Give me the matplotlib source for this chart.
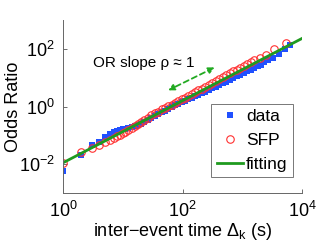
import matplotlib
matplotlib.use("Agg")
import matplotlib.pyplot as plt

plt.rcParams['font.family'] = ['Liberation Sans', 'DejaVu Sans']
plt.rcParams['mathtext.fontset'] = 'custom'
plt.rcParams['mathtext.rm'] = 'Liberation Sans'
plt.rcParams['mathtext.default'] = 'regular'

# empirical odds ratio (data)
data_x = [1, 2, 3, 4, 5, 6, 7, 8, 9, 10, 11, 12, 14, 16, 18, 20, 23, 26, 30, 34,
          39, 45, 51, 58, 66, 75, 85, 97, 110, 125, 142, 162, 185, 210, 240, 275,
          315, 360, 410, 470, 540, 620, 710, 810, 930, 1060, 1200, 1380, 1580,
          1800, 2050, 2350, 2700, 3250, 4200, 5200, 6300]
data_y = [0.00562, 0.0216, 0.0461, 0.0586, 0.0897, 0.114, 0.126, 0.139, 0.150,
          0.161, 0.166, 0.175, 0.192, 0.203, 0.225, 0.252, 0.293, 0.334, 0.399,
          0.456, 0.541, 0.631, 0.724, 0.830, 0.955, 1.09, 1.22, 1.41, 1.58, 1.77,
          1.99, 2.24, 2.52, 2.89, 3.26, 3.78, 4.27, 4.93, 5.55, 6.43, 7.28, 8.45,
          9.57, 11.0, 12.5, 14.4, 16.4, 18.7, 21.6, 24.9, 28.6, 34.0, 39.4, 48.1,
          64.9, 97.8, 138]

# self-feeding process (SFP)
sfp_x = [1, 2, 3, 4, 5, 6, 7, 8, 9, 10, 11, 12, 14, 16, 18, 20, 23, 26, 30, 34,
         39, 45, 51, 58, 66, 75, 85, 97, 110, 125, 142, 162, 185, 210, 240, 275,
         315, 360, 410, 470, 540, 620, 710, 810, 930, 1060, 1200, 1380, 1580,
         2000, 2500, 3400, 5400]
sfp_y = [0.0107, 0.0272, 0.0358, 0.0466, 0.0579, 0.0673, 0.0813, 0.0940, 0.106,
         0.119, 0.132, 0.149, 0.179, 0.217, 0.252, 0.296, 0.352, 0.411, 0.491,
         0.574, 0.665, 0.794, 0.912, 1.02, 1.17, 1.35, 1.54, 1.78, 2.03, 2.34,
         2.68, 3.09, 3.65, 4.18, 4.82, 5.58, 6.61, 7.64, 8.79, 10.4, 12.1, 14.0,
         16.6, 19.1, 22.2, 25.6, 29.9, 34.8, 41.2, 48.4, 60.3, 95.5, 155]

# power-law fit
fit_x = [1, 10000]
fit_y = [0.0112, 229]

x_ticks = [1, 100, 10000]
y_ticks = [0.01, 1, 100]

fig = plt.figure(figsize=(3.32, 2.5), dpi=100)
ax = fig.add_axes([0.19, 0.228, 0.7196, 0.692])

ax.loglog(data_x, data_y, 's', color='#2050ff', markersize=4.4,
          markeredgewidth=0, label='data')
ax.loglog(sfp_x, sfp_y, 'o', markerfacecolor='none', markeredgecolor='#ff3030',
          markersize=5.4, markeredgewidth=0.8, label='SFP')
ax.loglog(fit_x, fit_y, '-', color='#1f9a1f', linewidth=2.0, label='fitting')

ax.set_xlim(1, 1e4)
ax.set_ylim(1e-3, 1e3)
ax.set_xticks(x_ticks)
ax.set_yticks(y_ticks)
ax.minorticks_off()
ax.tick_params(direction='in', length=3, width=0.6, color='#555555',
               labelsize=13, pad=6)

for side in ['top', 'right']:
    ax.spines[side].set_visible(False)
for side in ['left', 'bottom']:
    ax.spines[side].set_color('#666666')
    ax.spines[side].set_linewidth(0.7)

ax.set_xlabel('inter\u2212event time $\\Delta_k$ (s)', fontsize=13, labelpad=0)
ax.set_ylabel('Odds Ratio', fontsize=13)
ax.yaxis.set_label_coords(-0.17, 0.5)

ax.annotate('', xy=(52, 3.3), xytext=(380, 25),
            arrowprops=dict(arrowstyle='<|-|>', color='#22aa22', lw=1.3,
                            linestyle=(0, (3, 2)), mutation_scale=9))
ax.text(3.2, 32, 'OR slope \u03c1 \u2248 1', fontsize=11, va='center', ha='left')

leg = ax.legend(loc='lower right', bbox_to_anchor=(0.962, 0.092), fontsize=12.5,
                frameon=True, fancybox=False, handlelength=1.5,
                handletextpad=0.2, borderpad=0.3, labelspacing=0.5,
                borderaxespad=0)
leg.get_frame().set_edgecolor('#555555')
leg.get_frame().set_linewidth(0.7)

fig.savefig('out.png', dpi=100)
